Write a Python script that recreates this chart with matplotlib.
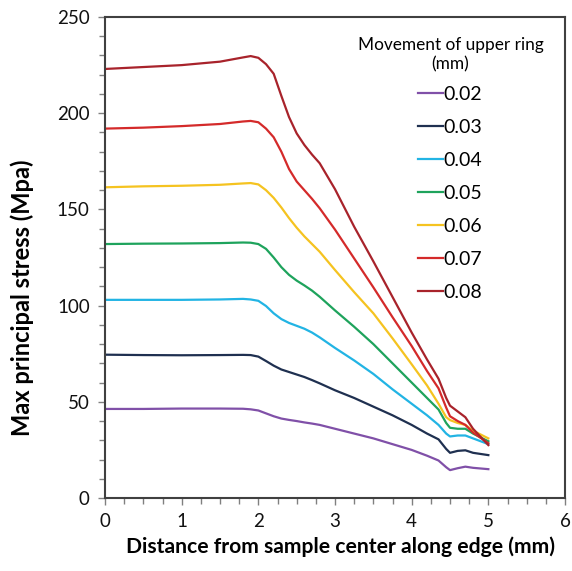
import matplotlib
matplotlib.use('Agg')
from matplotlib import pyplot as plt
from matplotlib.ticker import MultipleLocator

plt.rcParams['font.family'] = ['Lato', 'DejaVu Sans']

# distance from sample center (mm)
distance = [0, 0.5, 1.0, 1.5, 1.8, 1.9, 2.0, 2.1, 2.2, 2.3, 2.4, 2.5, 2.6, 2.7, 2.8,
            3.0, 3.25, 3.5, 3.75, 4.0, 4.2, 4.35, 4.45, 4.5, 4.6, 4.7, 4.8, 5.0]

stress_002 = [46.3, 46.3, 46.5, 46.5, 46.4, 46.1, 45.5, 44.0, 42.5, 41.3, 40.6, 40.0, 39.3, 38.7, 38.0,
              36.0, 33.5, 31.0, 28.0, 25.0, 22.0, 19.5, 16.0, 14.5, 15.5, 16.3, 15.7, 15.0]
stress_003 = [74.5, 74.3, 74.2, 74.3, 74.4, 74.3, 73.5, 71.2, 68.8, 66.8, 65.5, 64.2, 62.9, 61.3, 59.6,
              56.0, 52.0, 47.5, 43.0, 38.0, 33.5, 30.5, 25.5, 23.5, 24.5, 24.8, 23.5, 22.3]
stress_004 = [103.0, 103.0, 103.0, 103.2, 103.5, 103.2, 102.5, 99.8, 96.0, 93.0, 91.0, 89.5, 88.0, 86.0, 83.5,
              78.0, 71.5, 64.5, 56.5, 49.0, 43.0, 38.0, 33.5, 32.0, 32.5, 32.5, 31.0, 28.0]
stress_005 = [132.0, 132.2, 132.3, 132.5, 132.8, 132.7, 132.0, 129.5, 125.0, 120.0, 116.0, 113.0, 110.5, 107.8, 104.6,
              97.5, 89.0, 80.0, 70.0, 60.0, 52.0, 46.0, 39.0, 36.5, 36.0, 36.0, 33.5, 29.5]
stress_006 = [161.5, 162.0, 162.3, 162.8, 163.5, 163.7, 163.0, 160.0, 156.0, 151.0, 145.5, 140.5, 136.0, 132.0, 128.0,
              118.5, 107.0, 96.0, 83.0, 69.5, 58.5, 49.0, 42.0, 40.5, 39.0, 38.0, 35.0, 31.0]
stress_007 = [192.0, 192.5, 193.3, 194.4, 195.7, 196.0, 195.3, 192.0, 187.5, 180.0, 171.0, 164.5, 160.0, 155.5, 150.6,
              139.5, 124.5, 109.5, 94.0, 79.0, 66.0, 57.0, 47.0, 42.5, 40.0, 38.0, 34.0, 28.5]
stress_008 = [223.0, 224.0, 225.0, 226.8, 229.0, 229.7, 228.8, 225.5, 220.5, 209.0, 198.0, 189.5, 183.5, 178.5, 174.0,
              160.5, 141.0, 123.0, 104.5, 86.0, 72.0, 62.0, 52.0, 48.0, 45.0, 42.0, 36.0, 27.5]

labels = ['0.02', '0.03', '0.04', '0.05', '0.06', '0.07', '0.08']
colors = ['#8050A8', '#1F3050', '#22B4E4', '#1EA35C', '#F5C320', '#D42A2A', '#A8232B']
series = [stress_002, stress_003, stress_004, stress_005, stress_006, stress_007, stress_008]

fig = plt.figure(figsize=(5.72, 5.71), dpi=100)
ax = fig.add_axes([0.1836, 0.1278, 0.8042, 0.8424])

for vals, col, lab in zip(series, colors, labels):
    ax.plot(distance, vals, color=col, lw=1.6, label=lab)

ax.set_xlim(0, 6)
ax.set_ylim(0, 250)
ax.xaxis.set_major_locator(MultipleLocator(1))
ax.xaxis.set_minor_locator(MultipleLocator(0.25))
ax.yaxis.set_major_locator(MultipleLocator(50))
ax.yaxis.set_minor_locator(MultipleLocator(10))
ax.tick_params(which='both', direction='out', color='#808080', labelsize=13.5,
               labelcolor='#111111')
ax.tick_params(which='major', length=5, width=1)
ax.tick_params(which='minor', length=4, width=1)
ax.tick_params(axis='x', pad=6)
ax.tick_params(axis='y', pad=6)
for sp in ax.spines.values():
    sp.set_color('#404040')
    sp.set_linewidth(1.5)

ax.set_xlabel('Distance from sample center along edge (mm)', fontsize=15.2,
              fontweight='bold')
ax.set_ylabel('Max principal stress (Mpa)', fontsize=17, fontweight='bold')
ax.xaxis.set_label_coords(0.511, -0.08)
ax.yaxis.set_label_coords(-0.155, 0.416)

leg = ax.legend(title='Movement of upper ring\n(mm)', loc='upper right',
                bbox_to_anchor=(0.991, 0.994), frameon=False, fontsize=14,
                title_fontsize=12.4, handlelength=1.25, handletextpad=0.05,
                labelspacing=0.82)
leg._legend_box.align = 'center'
leg._legend_box.sep = 10
leg.get_title().set_multialignment('center')

fig.savefig('out.png', dpi=100)
